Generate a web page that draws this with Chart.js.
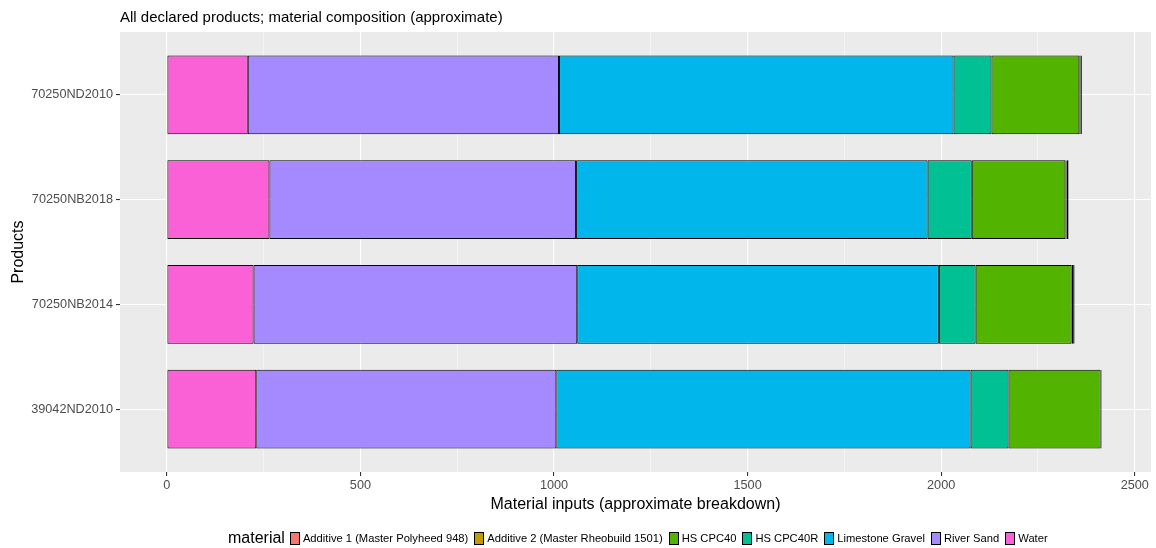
<!DOCTYPE html>
<html>
<head>
<meta charset="utf-8">
<script src="https://cdn.jsdelivr.net/npm/chart.js@4.4.1/dist/chart.umd.min.js"></script>
<style>
  body { margin: 0; background: #fff; font-family: "Liberation Sans", Arial, sans-serif; }
  #wrap { position: relative; width: 1156px; height: 548px; }
  #legend { position: absolute; left: 228px; top: 528px; height: 20px; display: flex; align-items: center; white-space: nowrap; }
  #legend .ttl { font-size: 16px; color: #000; margin-right: 5px; }
  #legend .item { display: flex; align-items: center; font-size: 11.2px; color: #000; margin-right: 6px; }
  #legend .box { width: 8px; height: 11px; border: 1px solid #000; margin-right: 3px; }
</style>
</head>
<body>
<div id="wrap">
  <canvas id="grafico" width="1156" height="548"></canvas>
  <div id="legend"></div>
</div>
<script>
// produtos, de cima para baixo
const produtos = ['70250ND2010', '70250NB2018', '70250NB2014', '39042ND2010'];

// valores aproximados de cada material por produto
const water = [209, 265, 224, 231];
const riverSand = [804, 792, 836, 775];
const limestoneGravel = [1019, 908, 934, 1070];
const hsCpc40r = [98, 114, 95, 98];
const hsCpc40 = [227, 242, 248, 238];
const additive2 = [2.6, 3, 4, 2];
const additive1 = [3.8, 5, 3.5, 1];

const xTicks = [0, 250, 500, 750, 1000, 1250, 1500, 1750, 2000, 2250, 2500];

// ordem de empilhamento: da esquerda para a direita
const materiais = [
  { nome: 'Water', valores: water, cor: '#FB61D7' },
  { nome: 'River Sand', valores: riverSand, cor: '#A58AFF' },
  { nome: 'Limestone Gravel', valores: limestoneGravel, cor: '#00B6EB' },
  { nome: 'HS CPC40R', valores: hsCpc40r, cor: '#00C094' },
  { nome: 'HS CPC40', valores: hsCpc40, cor: '#53B400' },
  { nome: 'Additive 2 (Master Rheobuild 1501)', valores: additive2, cor: '#C49A00' },
  { nome: 'Additive 1 (Master Polyheed 948)', valores: additive1, cor: '#F8766D' }
];

const FONTE = '"Liberation Sans", Arial, sans-serif';

const fundoPainel = {
  id: 'fundoPainel',
  beforeDraw(chart) {
    const { ctx, chartArea } = chart;
    ctx.save();
    ctx.fillStyle = '#EBEBEB';
    ctx.fillRect(chartArea.left, chartArea.top, chartArea.right - chartArea.left, chartArea.bottom - chartArea.top);
    ctx.restore();
  },
  afterDraw(chart) {
    const { ctx, chartArea } = chart;
    ctx.save();
    ctx.fillStyle = '#000';
    ctx.font = '15px ' + FONTE;
    ctx.textBaseline = 'alphabetic';
    ctx.fillText('All declared products; material composition (approximate)', chartArea.left, 22);
    ctx.restore();
  }
};

const datasets = materiais.map(m => ({
  label: m.nome,
  data: m.valores.map((v, i) => ({ x: v, y: i })),
  backgroundColor: m.cor,
  borderColor: '#000',
  borderWidth: 1,
  borderSkipped: false,
  barPercentage: 0.75,
  categoryPercentage: 1
}));

new Chart(document.getElementById('grafico').getContext('2d'), {
  type: 'bar',
  data: { datasets: datasets },
  options: {
    indexAxis: 'y',
    responsive: false,
    animation: false,
    layout: { padding: { top: 32, right: 5, bottom: 28, left: 0 } },
    plugins: { legend: { display: false }, tooltip: { enabled: false } },
    scales: {
      x: {
        type: 'linear',
        stacked: true,
        min: -121,
        max: 2542,
        afterBuildTicks: s => { s.ticks = xTicks.map(v => ({ value: v })); },
        afterFit: s => { s.height = 48; },
        border: { display: false },
        grid: {
          color: '#FFFFFF',
          lineWidth: c => (c.tick && c.tick.value % 500 === 0) ? 1.1 : 0.5,
          tickColor: c => (c.tick && c.tick.value % 500 === 0) ? '#333333' : 'rgba(0,0,0,0)',
          tickWidth: 1.1,
          tickLength: 4
        },
        ticks: {
          color: '#4D4D4D',
          font: { family: FONTE, size: 12.7 },
          padding: 2,
          maxRotation: 0,
          autoSkip: false,
          callback: v => v % 500 === 0 ? String(v) : ''
        },
        title: {
          display: true,
          text: 'Material inputs (approximate breakdown)',
          color: '#000',
          font: { family: FONTE, size: 16 },
          padding: { top: 2, bottom: 6 }
        }
      },
      y: {
        type: 'linear',
        stacked: true,
        reverse: true,
        offset: false,
        min: -0.6,
        max: 3.6,
        afterBuildTicks: s => { s.ticks = produtos.map((p, i) => ({ value: i })); },
        afterFit: s => { s.width = 120; },
        border: { display: false },
        grid: {
          offset: false,
          color: '#FFFFFF',
          lineWidth: 1.1,
          tickColor: '#333333',
          tickWidth: 1.1,
          tickLength: 4
        },
        ticks: {
          color: '#4D4D4D',
          font: { family: FONTE, size: 12.7 },
          padding: 3,
          autoSkip: false,
          callback: v => produtos[v] || ''
        },
        title: {
          display: true,
          text: 'Products',
          color: '#000',
          font: { family: FONTE, size: 16 },
          padding: { top: 9, bottom: 0 }
        }
      }
    }
  },
  plugins: [fundoPainel]
});

// legenda em HTML, na ordem do ggplot (alfabética)
const legenda = document.getElementById('legend');
legenda.innerHTML = '<span class="ttl">material</span>';
materiais.slice().reverse().forEach(m => {
  const item = document.createElement('span');
  item.className = 'item';
  item.innerHTML = `<span class="box" style="background:${m.cor}"></span>${m.nome}`;
  legenda.appendChild(item);
});
</script>
</body>
</html>
